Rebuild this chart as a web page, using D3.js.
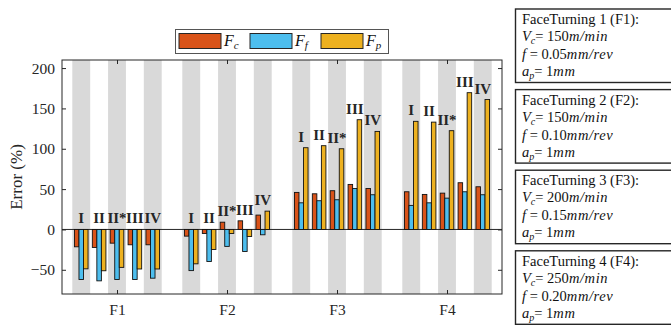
<!DOCTYPE html>
<html>
<head>
<meta charset="utf-8">
<script src="https://cdn.jsdelivr.net/npm/d3@7"></script>
<style>
  body { margin: 0; background: #fff; }
  svg { display: block; font-family: "Liberation Serif", "DejaVu Serif", serif; }
</style>
</head>
<body>
<svg id="chart" width="671" height="325"></svg>
<script>
/* chart data */
var groups = ["F1", "F2", "F3", "F4"];
var cases = ["I", "II", "II*", "III", "IV"];
var forces = ["Fc", "Ff", "Fp"];
var forceSubs = ["c", "f", "p"];
var forceColors = ["#D95319", "#4DBEEE", "#EDB120"];

// error (%) per group, per case
var fcErr = [[-21.5, -22.3, -17, -19, -19], [-8.3, -5, 9, 10.7, 17.8], [45.9, 44.2, 48, 55.8, 50.8], [46.7, 43.4, 45, 57.9, 52.9]];
var ffErr = [[-62, -63.7, -62, -62, -60.4], [-51, -39.7, -21, -27.3, -6.6], [33, 35.6, 36.8, 50.8, 43], [29.8, 33, 38.8, 46.7, 43]];
var fpErr = [[-48.8, -51.2, -47, -49, -49], [-42.6, -24.8, -5, -8.7, 22.7], [101.3, 103.8, 100, 136, 121.5], [134, 133, 122.4, 169.5, 161]];

var yTicks = [-50, 0, 50, 100, 150, 200];

// cutting conditions for the side boxes
var cutSpeed = ["150", "150", "200", "250"];
var cutFeed = ["0.05", "0.10", "0.15", "0.20"];
var cutDepth = ["1", "1", "1", "1"];

var svg = d3.select("#chart");
var pLeft = 62, pRight = 502, pTop = 60, pBottom = 294;

var x = d3.scaleLinear().domain([0.5, 4.5]).range([pLeft, pRight]);
var y = d3.scaleLinear().domain([-80, 210]).range([pBottom, pTop]);
var slot = d3.scaleBand().domain(cases).range([-44.7, 44.7]);
var inner = d3.scaleBand().domain(forces).range([-6.8, 6.8]);

var rows = [];
groups.forEach(function(g, gi) {
  cases.forEach(function(c, ci) {
    rows.push({g: gi, c: c, ci: ci, vals: [fcErr[gi][ci], ffErr[gi][ci], fpErr[gi][ci]]});
  });
});

// grey stripes behind odd cases
svg.append("g").selectAll("rect")
  .data(rows.filter(function(d){ return d.ci % 2 === 0; }))
  .enter().append("rect")
  .attr("x", function(d){ return x(d.g + 1) + slot(d.c); })
  .attr("y", pTop)
  .attr("width", slot.bandwidth())
  .attr("height", pBottom - pTop)
  .attr("fill", "#d9d9d9");

// zero line
svg.append("line")
  .attr("x1", pLeft).attr("x2", pRight)
  .attr("y1", y(0)).attr("y2", y(0))
  .attr("stroke", "#262626").attr("stroke-width", 1);

// bars
var bars = [];
rows.forEach(function(r) {
  r.vals.forEach(function(v, k) {
    bars.push({g: r.g, c: r.c, k: k, v: v});
  });
});
svg.append("g").selectAll("rect")
  .data(bars)
  .enter().append("rect")
  .attr("x", function(d){ return x(d.g + 1) + slot(d.c) + slot.bandwidth() / 2 + inner(forces[d.k]); })
  .attr("y", function(d){ return y(Math.max(d.v, 0)); })
  .attr("width", inner.bandwidth())
  .attr("height", function(d){ return Math.abs(y(d.v) - y(0)); })
  .attr("fill", function(d){ return forceColors[d.k]; })
  .attr("stroke", "#111")
  .attr("stroke-width", 0.9);

// case labels
svg.append("g").selectAll("text")
  .data(rows)
  .enter().append("text")
  .attr("x", function(d){ return x(d.g + 1) + slot(d.c) + slot.bandwidth() / 2; })
  .attr("y", function(d){ return y(Math.max(d3.max(d.vals), 0)) - 6; })
  .attr("text-anchor", "middle")
  .attr("font-weight", "bold")
  .attr("font-size", 15)
  .attr("fill", "#262626")
  .text(function(d){ return d.c; });

// axes
function styleAxis(sel) {
  sel.selectAll(".domain").remove();
  sel.selectAll("line").attr("stroke", "#262626");
  sel.selectAll("text").attr("font-size", 15.5).attr("fill", "#262626")
    .attr("font-family", "Liberation Serif, serif");
}
svg.append("g").attr("transform", "translate(" + pLeft + ",0)")
  .call(d3.axisLeft(y).tickValues(yTicks).tickSize(-4).tickPadding(7))
  .call(styleAxis);
svg.append("g").attr("transform", "translate(" + pRight + ",0)")
  .call(d3.axisRight(y).tickValues(yTicks).tickSize(-4).tickFormat(""))
  .call(styleAxis);
svg.append("g").attr("transform", "translate(0," + pBottom + ")")
  .call(d3.axisBottom(x).tickValues([1, 2, 3, 4]).tickSize(-4).tickPadding(10)
    .tickFormat(function(d){ return groups[d - 1]; }))
  .call(styleAxis);
svg.append("g").attr("transform", "translate(0," + pTop + ")")
  .call(d3.axisTop(x).tickValues([1, 2, 3, 4]).tickSize(-4).tickFormat(""))
  .call(styleAxis);

svg.append("rect")
  .attr("x", pLeft).attr("y", pTop)
  .attr("width", pRight - pLeft).attr("height", pBottom - pTop)
  .attr("fill", "none").attr("stroke", "#262626").attr("stroke-width", 1);

svg.append("text")
  .attr("transform", "translate(22," + (pTop + pBottom) / 2 + ") rotate(-90)")
  .attr("text-anchor", "middle")
  .attr("font-size", 17)
  .attr("fill", "#262626")
  .text("Error (%)");

// legend
var leg = svg.append("g");
leg.append("rect")
  .attr("x", 175.5).attr("y", 29.5).attr("width", 213).attr("height", 24)
  .attr("fill", "#fff").attr("stroke", "#555").attr("stroke-width", 1);
forces.forEach(function(f, i) {
  var lx = 179 + i * 71;
  leg.append("rect")
    .attr("x", lx).attr("y", 33.5).attr("width", 42).attr("height", 15)
    .attr("fill", forceColors[i]).attr("stroke", "#262626").attr("stroke-width", 1);
  var t = leg.append("text")
    .attr("x", lx + 45).attr("y", 46)
    .attr("font-size", 16).attr("font-style", "italic").attr("fill", "#111");
  t.append("tspan").text("F");
  t.append("tspan").attr("dy", 3).attr("font-size", 11).text(forceSubs[i]);
});

// condition boxes
groups.forEach(function(g, i) {
  var by = 9 + i * 80.6;
  var box = svg.append("g");
  box.append("rect")
    .attr("x", 515.5).attr("y", by).attr("width", 170).attr("height", 73.5)
    .attr("fill", "#fff").attr("stroke", "#262626").attr("stroke-width", 1.4);
  var tx = 522, fs = 14.5;
  box.append("text").attr("x", tx).attr("y", by + 15).attr("font-size", fs).attr("fill", "#111")
    .text("FaceTurning " + (i + 1) + " (" + g + "):");

  var l2 = box.append("text").attr("x", tx).attr("y", by + 32).attr("font-size", fs).attr("fill", "#111");
  l2.append("tspan").attr("font-style", "italic").text("V");
  l2.append("tspan").attr("font-style", "italic").attr("font-size", 10).attr("dy", 3).text("c");
  l2.append("tspan").attr("dy", -3).text("= " + cutSpeed[i]);
  l2.append("tspan").attr("font-style", "italic").attr("letter-spacing", 0.6).text("m/min");

  var l3 = box.append("text").attr("x", tx).attr("y", by + 50).attr("font-size", fs).attr("fill", "#111");
  l3.append("tspan").attr("font-style", "italic").text("f");
  l3.append("tspan").text(" = " + cutFeed[i]);
  l3.append("tspan").attr("font-style", "italic").attr("letter-spacing", 0.6).text("mm/rev");

  var l4 = box.append("text").attr("x", tx).attr("y", by + 67).attr("font-size", fs).attr("fill", "#111");
  l4.append("tspan").attr("font-style", "italic").text("a");
  l4.append("tspan").attr("font-style", "italic").attr("font-size", 10).attr("dy", 3).text("p");
  l4.append("tspan").attr("dy", -3).text("= " + cutDepth[i]);
  l4.append("tspan").attr("font-style", "italic").attr("letter-spacing", 0.6).text("mm");
});
</script>
</body>
</html>
